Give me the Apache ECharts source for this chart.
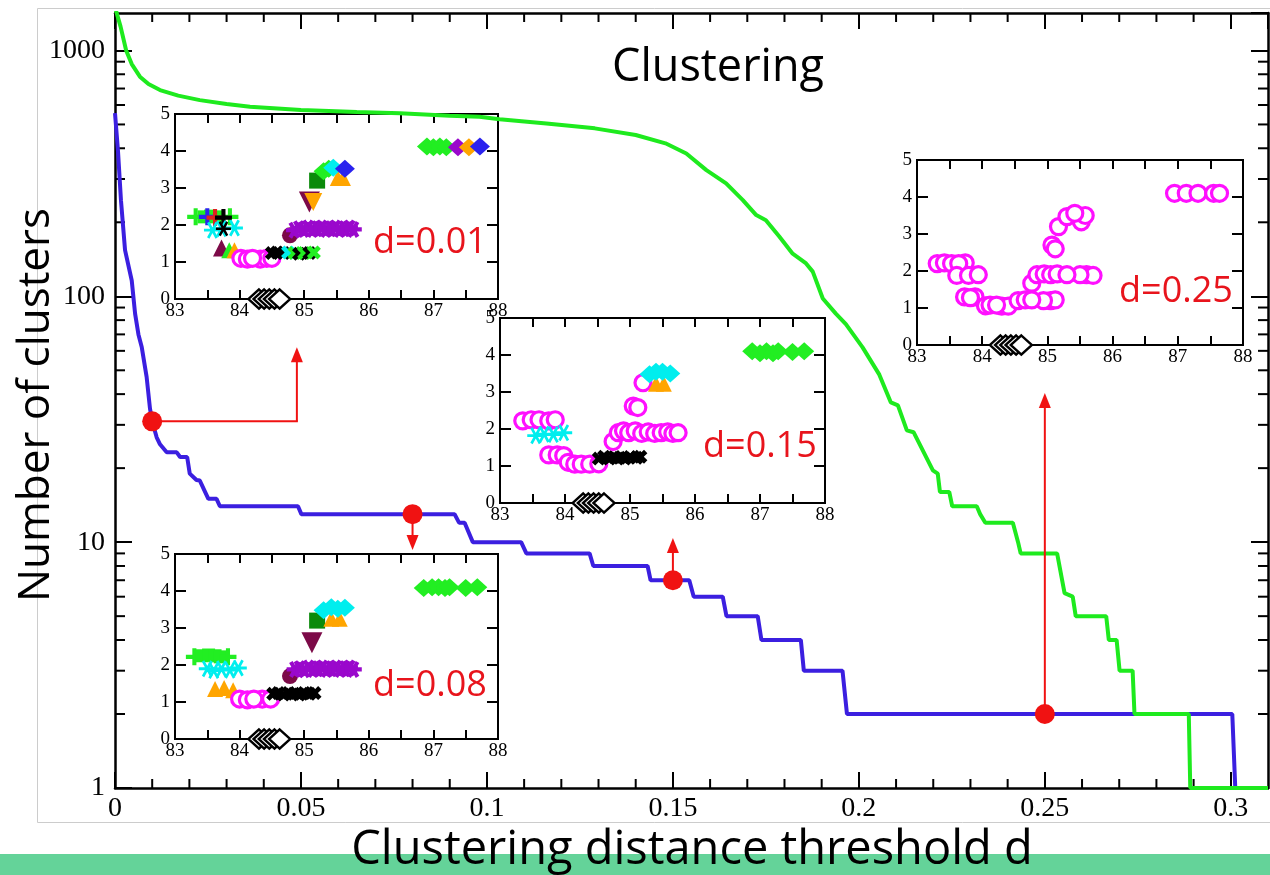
<!DOCTYPE html>
<html>
<head>
<meta charset="utf-8">
<script src="https://cdn.jsdelivr.net/npm/echarts@6/dist/echarts.min.js"></script>
<style>
  html, body { margin: 0; padding: 0; background: #fff; }
  #chart { width: 1270px; height: 875px; }
</style>
</head>
<body>
<div id="chart"></div>
<script>
// Number of clusters as a function of the clustering distance threshold d
// [d, number of clusters]
const blueCurve = [
  [0, 556], [0.0008, 390], [0.0016, 246], [0.0027, 154], [0.0045, 116], [0.0054, 85],
  [0.0063, 70], [0.0072, 62], [0.0085, 47], [0.0094, 35], [0.01, 31], [0.0112, 26.7],
  [0.0121, 25], [0.0139, 23.2], [0.0166, 23.2], [0.0175, 22.2], [0.0194, 22.2],
  [0.0201, 19], [0.0219, 17.9], [0.0228, 17.8], [0.0251, 15], [0.0273, 15], [0.0282, 14],
  [0.0492, 14], [0.0501, 13], [0.0913, 13], [0.0925, 12], [0.094, 12], [0.0962, 10],
  [0.1092, 10], [0.1106, 9], [0.1276, 9], [0.1286, 8], [0.1432, 8], [0.144, 7],
  [0.1544, 7], [0.1556, 6], [0.1634, 6], [0.1644, 5], [0.1728, 5], [0.1738, 4],
  [0.1844, 4], [0.1852, 3], [0.1956, 3], [0.1968, 2], [0.3004, 2], [0.3012, 1], [0.31, 1]
];
const greenCurve = [
  [0, 1500], [0.0015, 1250], [0.003, 1000], [0.0045, 880], [0.0067, 782], [0.009, 730],
  [0.0121, 690], [0.017, 655], [0.0228, 628], [0.03, 606], [0.0363, 590], [0.05, 572],
  [0.065, 562], [0.0766, 555], [0.09, 543], [0.098, 537], [0.1034, 525], [0.116, 505],
  [0.129, 482], [0.14, 453], [0.148, 419], [0.1536, 381], [0.159, 326], [0.1643, 288],
  [0.1688, 246], [0.1724, 214], [0.175, 204], [0.1786, 175], [0.1822, 149], [0.1858, 136],
  [0.1876, 126], [0.1903, 98], [0.1938, 85], [0.1965, 77], [0.201, 62], [0.2055, 48],
  [0.2086, 37], [0.2105, 36], [0.2129, 28.5], [0.2147, 28], [0.2199, 19.6], [0.2212, 19],
  [0.2218, 16], [0.2243, 16], [0.2251, 14], [0.2317, 14], [0.2326, 13], [0.234, 12],
  [0.2414, 12], [0.2428, 10], [0.2435, 9], [0.2533, 9], [0.2553, 6.2], [0.2575, 6],
  [0.2583, 5], [0.2665, 5], [0.2672, 4], [0.2693, 4], [0.2701, 3], [0.2736, 3],
  [0.2741, 2], [0.2887, 2], [0.2891, 1], [0.31, 1]
];

// thresholds shown in the insets and their cluster counts
const sampleD = [0.01, 0.08, 0.15, 0.25];
const sampleN = [31, 13, 7, 2];
const sampleLabels = ['d=0.01', 'd=0.08', 'd=0.15', 'd=0.25'];

// pointer segments from each sampled threshold towards its inset:
// [d start, n start, d end, n end, arrow head (1) or not (0)]
const pointerSegments = [
  [0.01, 31, 0.0489, 31, 0],
  [0.0489, 31, 0.0489, 62, 1],
  [0.08, 13, 0.08, 9.3, 1],
  [0.15, 7, 0.15, 10.4, 1],
  [0.25, 2, 0.25, 40.4, 1]
];

// tick labels / minor tick positions of the main frame
const yMainTicks = [1, 10, 100, 1000];
const yMinorTicks = [2, 3, 4, 5, 6, 7, 8, 9, 20, 30, 40, 50, 60, 70, 80, 90,
                     200, 300, 400, 500, 600, 700, 800, 900];
const xMinorTicks = [0.01, 0.02, 0.03, 0.04, 0.06, 0.07, 0.08, 0.09, 0.11, 0.12, 0.13, 0.14,
                     0.16, 0.17, 0.18, 0.19, 0.21, 0.22, 0.23, 0.24, 0.26, 0.27, 0.28, 0.29];

// inset scatter points: [marker group, x, y]
const pointsD001 = [
  ['greenPlus', 83.32, 2.22], ['greenSquare', 83.45, 2.22], ['greenSquare', 83.55, 2.24],
  ['greenSquare', 83.64, 2.22], ['bluePlus', 83.5, 2.22], ['redPlus', 83.62, 2.2],
  ['greenPlus', 83.85, 2.22], ['blackPlus', 83.75, 2.2],
  ['cyanStar', 83.58, 1.86], ['cyanStar', 83.72, 1.9], ['cyanStar', 83.92, 1.92], ['blackStar', 83.75, 1.9],
  ['maroonTri', 83.72, 1.38], ['greenTri', 83.84, 1.32], ['orangeTri', 83.92, 1.32],
  ['magentaRing', 84.02, 1.1], ['magentaRing', 84.12, 1.08], ['magentaRing', 84.32, 1.08],
  ['magentaRing', 84.42, 1.1], ['magentaRing', 84.5, 1.1], ['magentaRing', 84.2, 1.1],
  ['blackX', 84.5, 1.24], ['blackX', 84.58, 1.26], ['blackX', 84.68, 1.24], ['cyanX', 84.75, 1.26],
  ['greenX', 84.85, 1.24], ['blackX', 84.92, 1.22], ['greenX', 85.0, 1.24], ['blackX', 85.08, 1.24],
  ['greenX', 85.15, 1.26],
  ['maroonDot', 84.78, 1.72],
  ['violetStar', 84.85, 1.86], ['violetStar', 84.92, 1.9], ['violetStar', 84.99, 1.88],
  ['violetStar', 85.06, 1.92], ['violetStar', 85.13, 1.88], ['violetStar', 85.2, 1.9],
  ['violetStar', 85.27, 1.92], ['violetStar', 85.34, 1.88], ['violetStar', 85.41, 1.9],
  ['violetStar', 85.48, 1.92], ['violetStar', 85.55, 1.88], ['violetStar', 85.62, 1.9],
  ['violetStar', 85.7, 1.92], ['violetStar', 85.76, 1.88],
  ['maroonInvTri', 85.08, 2.62], ['orangeInvTri', 85.14, 2.62],
  ['darkGreenSquare', 85.2, 3.2],
  ['orangeTri', 85.52, 3.27], ['orangeTri', 85.6, 3.27],
  ['greenDiamond', 85.3, 3.45], ['greenDiamond', 85.38, 3.52], ['cyanDiamond', 85.45, 3.55],
  ['blueDiamond', 85.63, 3.52],
  ['greenDiamond', 86.9, 4.12], ['greenDiamond', 87.0, 4.1], ['greenDiamond', 87.1, 4.12],
  ['greenDiamond', 87.2, 4.1], ['violetDiamond', 87.38, 4.1], ['orangeDiamond', 87.55, 4.1],
  ['blueDiamond', 87.72, 4.12],
  ['blackRing', 84.3, 0], ['blackRing', 84.38, 0], ['blackRing', 84.46, 0],
  ['blackRing', 84.54, 0], ['blackRing', 84.62, 0]
];
const pointsD008 = [
  ['greenPlus', 83.3, 2.22], ['greenSquare', 83.42, 2.25], ['greenSquare', 83.52, 2.27],
  ['greenSquare', 83.62, 2.25], ['greenSquare', 83.7, 2.22], ['greenPlus', 83.82, 2.22],
  ['cyanStar', 83.5, 1.9], ['cyanStar', 83.6, 1.85], ['cyanStar', 83.72, 1.9],
  ['cyanStar', 83.85, 1.86], ['cyanStar', 83.98, 1.92],
  ['orangeTri', 83.62, 1.35], ['orangeTri', 83.76, 1.38], ['orangeTri', 83.9, 1.32],
  ['magentaRing', 84.0, 1.08], ['magentaRing', 84.12, 1.06], ['magentaRing', 84.35, 1.08],
  ['magentaRing', 84.48, 1.08], ['magentaRing', 84.22, 1.08],
  ['blackX', 84.52, 1.22], ['blackX', 84.6, 1.24], ['blackX', 84.68, 1.2], ['blackX', 84.76, 1.24],
  ['blackX', 84.84, 1.22], ['blackX', 84.92, 1.2], ['blackX', 85.0, 1.24], ['blackX', 85.08, 1.22],
  ['blackX', 85.16, 1.24],
  ['maroonDot', 84.78, 1.7],
  ['violetStar', 84.86, 1.88], ['violetStar', 84.93, 1.9], ['violetStar', 85.0, 1.87],
  ['violetStar', 85.07, 1.92], ['violetStar', 85.14, 1.88], ['violetStar', 85.21, 1.9],
  ['violetStar', 85.28, 1.92], ['violetStar', 85.35, 1.88], ['violetStar', 85.42, 1.9],
  ['violetStar', 85.49, 1.92], ['violetStar', 85.56, 1.88], ['violetStar', 85.63, 1.9],
  ['violetStar', 85.7, 1.92], ['violetStar', 85.76, 1.88],
  ['maroonInvTri', 85.12, 2.6],
  ['darkGreenSquare', 85.2, 3.2],
  ['orangeTri', 85.42, 3.25], ['orangeTri', 85.55, 3.25],
  ['cyanDiamond', 85.3, 3.48], ['cyanDiamond', 85.42, 3.56], ['cyanDiamond', 85.52, 3.52],
  ['cyanDiamond', 85.63, 3.55],
  ['greenDiamond', 86.85, 4.08], ['greenDiamond', 86.98, 4.1], ['greenDiamond', 87.08, 4.1],
  ['greenDiamond', 87.18, 4.08], ['greenDiamond', 87.25, 4.1], ['greenDiamond', 87.5, 4.08],
  ['greenDiamond', 87.68, 4.1],
  ['blackRing', 84.3, 0], ['blackRing', 84.38, 0], ['blackRing', 84.46, 0],
  ['blackRing', 84.54, 0], ['blackRing', 84.62, 0]
];
const pointsD015 = [
  ['magentaRing', 83.35, 2.22], ['magentaRing', 83.48, 2.25], ['magentaRing', 83.6, 2.25],
  ['magentaRing', 83.75, 2.22], ['magentaRing', 83.85, 2.25],
  ['cyanStar', 83.55, 1.82], ['cyanStar', 83.68, 1.86], ['cyanStar', 83.82, 1.85], ['cyanStar', 83.98, 1.9],
  ['magentaRing', 83.75, 1.3], ['magentaRing', 83.88, 1.3], ['magentaRing', 83.98, 1.28],
  ['magentaRing', 84.05, 1.1], ['magentaRing', 84.15, 1.05], ['magentaRing', 84.25, 1.05],
  ['magentaRing', 84.38, 1.05], ['magentaRing', 84.52, 1.06],
  ['blackX', 84.52, 1.2], ['blackX', 84.6, 1.25], ['blackX', 84.68, 1.2], ['blackX', 84.76, 1.24],
  ['blackX', 84.84, 1.22], ['blackX', 84.92, 1.2], ['blackX', 85.0, 1.24], ['blackX', 85.1, 1.22],
  ['blackX', 85.16, 1.25],
  ['magentaRing', 84.74, 1.66],
  ['magentaRing', 84.82, 1.9], ['magentaRing', 84.9, 1.95], ['magentaRing', 84.98, 1.9],
  ['magentaRing', 85.08, 1.95], ['magentaRing', 85.18, 1.88], ['magentaRing', 85.28, 1.92],
  ['magentaRing', 85.38, 1.88], ['magentaRing', 85.48, 1.9], ['magentaRing', 85.58, 1.92],
  ['magentaRing', 85.66, 1.88], ['magentaRing', 85.74, 1.9],
  ['magentaRing', 85.05, 2.62], ['magentaRing', 85.12, 2.58], ['magentaRing', 85.2, 3.25],
  ['orangeTri', 85.4, 3.22], ['orangeTri', 85.52, 3.22],
  ['cyanDiamond', 85.3, 3.48], ['cyanDiamond', 85.4, 3.55], ['cyanDiamond', 85.5, 3.55],
  ['cyanDiamond', 85.62, 3.5],
  ['greenDiamond', 86.88, 4.1], ['greenDiamond', 87.0, 4.05], ['greenDiamond', 87.1, 4.1],
  ['greenDiamond', 87.2, 4.05], ['greenDiamond', 87.28, 4.1], ['greenDiamond', 87.5, 4.08],
  ['greenDiamond', 87.68, 4.1],
  ['blackRing', 84.28, 0], ['blackRing', 84.36, 0], ['blackRing', 84.44, 0],
  ['blackRing', 84.52, 0], ['blackRing', 84.6, 0]
];
const pointsD025 = [
  ['magentaRing', 83.31, 2.2], ['magentaRing', 83.42, 2.22], ['magentaRing', 83.53, 2.2],
  ['magentaRing', 83.74, 2.22], ['magentaRing', 83.64, 2.2],
  ['magentaRing', 83.61, 1.88], ['magentaRing', 83.79, 1.88], ['magentaRing', 83.94, 1.9],
  ['magentaRing', 83.73, 1.3], ['magentaRing', 83.89, 1.3], ['magentaRing', 83.82, 1.28],
  ['magentaRing', 84.05, 1.06], ['magentaRing', 84.12, 1.08], ['magentaRing', 84.3, 1.05],
  ['magentaRing', 84.4, 1.05], ['magentaRing', 84.22, 1.08],
  ['magentaRing', 84.55, 1.2], ['magentaRing', 84.66, 1.22], ['magentaRing', 85.05, 1.2],
  ['magentaRing', 85.12, 1.22], ['magentaRing', 84.94, 1.2], ['magentaRing', 84.76, 1.22],
  ['magentaRing', 84.76, 1.67],
  ['magentaRing', 84.84, 1.9], ['magentaRing', 84.95, 1.92], ['magentaRing', 85.05, 1.9],
  ['magentaRing', 85.15, 1.92], ['magentaRing', 85.6, 1.9], ['magentaRing', 85.7, 1.88],
  ['magentaRing', 85.5, 1.9], ['magentaRing', 85.3, 1.9],
  ['magentaRing', 85.07, 2.7], ['magentaRing', 85.12, 2.6], ['magentaRing', 85.17, 3.2],
  ['magentaRing', 85.3, 3.47], ['magentaRing', 85.52, 3.33], ['magentaRing', 85.58, 3.5],
  ['magentaRing', 85.42, 3.56],
  ['magentaRing', 86.95, 4.1], ['magentaRing', 87.13, 4.1], ['magentaRing', 87.31, 4.1],
  ['magentaRing', 87.55, 4.1], ['magentaRing', 87.64, 4.1],
  ['blackRing', 84.28, 0], ['blackRing', 84.36, 0], ['blackRing', 84.44, 0],
  ['blackRing', 84.52, 0], ['blackRing', 84.6, 0]
];
const insetPoints = [pointsD001, pointsD008, pointsD015, pointsD025];

// ---- drawing ----
const SERIF = 'Liberation Serif';
const SANS = 'Open Sans';
const BLUE = '#3b1fe0';
const GREEN = '#1eea1e';
const RED = '#f01212';

const PLUS = 'path://M3.8,0H6.2V3.8H10V6.2H6.2V10H3.8V6.2H0V3.8H3.8Z';
const XMARK = 'path://M3.4,0H6.6V3.4H10V6.6H6.6V10H3.4V6.6H0V3.4H3.4Z';
const STAR = 'path://M0,4.2H10V5.8H0Z M1.807,1.07L3.193,0.27L8.193,8.93L6.807,9.73Z M8.193,1.07L3.193,9.73L1.807,8.93L6.807,0.27Z';
const STAR_BOLD = 'path://M0,3.8H10V6.2H0Z M1.461,1.27L3.539,0.07L8.539,8.73L6.461,9.93Z M8.539,1.27L3.539,9.93L1.461,8.73L6.461,0.07Z';

const C_GREEN = '#22ee22', C_CYAN = '#00eeee', C_BLUE = '#2a22ee', C_VIOLET = '#9a08cc';
const C_MAROON = '#7c0a48', C_ORANGE = '#ffa500', C_DKGREEN = '#0b8a0b', C_MAGENTA = '#ff10ff';

const markerStyle = {
  greenSquare:     { symbol: 'rect', size: 13, color: C_GREEN },
  greenPlus:       { symbol: PLUS, size: 17, color: C_GREEN },
  bluePlus:        { symbol: PLUS, size: 17, color: C_BLUE },
  redPlus:         { symbol: PLUS, size: 17, color: '#e02020' },
  blackPlus:       { symbol: PLUS, size: 17, color: '#000' },
  cyanStar:        { symbol: STAR, size: 17, color: C_CYAN },
  blackStar:       { symbol: STAR, size: 15, color: '#000' },
  maroonTri:       { symbol: 'triangle', size: 17, color: C_MAROON },
  greenTri:        { symbol: 'triangle', size: 16, color: C_GREEN },
  orangeTri:       { symbol: 'triangle', size: 16, color: C_ORANGE },
  magentaRing:     { symbol: 'circle', size: 16, color: '#fff', border: C_MAGENTA, borderWidth: 3.2 },
  blackX:          { symbol: XMARK, size: 15, color: '#000', rotate: 45 },
  cyanX:           { symbol: XMARK, size: 15, color: C_CYAN, rotate: 45 },
  greenX:          { symbol: XMARK, size: 15, color: C_GREEN, rotate: 45 },
  maroonDot:       { symbol: 'circle', size: 16, color: C_MAROON },
  violetStar:      { symbol: STAR_BOLD, size: 17, color: C_VIOLET },
  maroonInvTri:    { symbol: 'triangle', size: 21, color: C_MAROON, rotate: 180 },
  orangeInvTri:    { symbol: 'triangle', size: 18, color: C_ORANGE, rotate: 180 },
  darkGreenSquare: { symbol: 'rect', size: 16, color: C_DKGREEN },
  greenDiamond:    { symbol: 'diamond', size: [20, 18], color: C_GREEN },
  cyanDiamond:     { symbol: 'diamond', size: [20, 18], color: C_CYAN },
  blueDiamond:     { symbol: 'diamond', size: [20, 18], color: C_BLUE },
  violetDiamond:   { symbol: 'diamond', size: [20, 18], color: C_VIOLET },
  orangeDiamond:   { symbol: 'diamond', size: [20, 18], color: C_ORANGE },
  blackRing:       { symbol: 'diamond', size: [21, 19], color: '#fff', border: '#000', borderWidth: 2.5 }
};

// inset frames, in the same order as sampleLabels
const insetBoxes = [
  { left: 175, top: 114, width: 323, height: 185 },
  { left: 175, top: 554, width: 323, height: 185 },
  { left: 500, top: 318, width: 325, height: 185 },
  { left: 917, top: 160, width: 326, height: 185 }
];
const insetLabelPos = [[430, 243], [430, 686], [760, 447], [1176, 292]];

const grids = [{ left: 115, top: 13, right: 2, bottom: 87, show: false, outerBoundsMode: 'none' }]
  .concat(insetBoxes.map(b => Object.assign({}, b, {
    show: true, backgroundColor: '#fff', borderColor: '#000', borderWidth: 2, outerBoundsMode: 'none'
  })));

function mainX(position, showLabel) {
  return {
    type: 'value', gridIndex: 0, position, min: 0, max: 0.31, interval: 0.05,
    axisLine: { show: true, onZero: false, lineStyle: { color: '#000', width: 2.5 } },
    axisTick: { show: true, inside: true, length: 16, lineStyle: { color: '#000', width: 2 } },
    splitLine: { show: false },
    axisLabel: { show: showLabel, showMaxLabel: false, fontFamily: SERIF, fontSize: 28, color: '#000', margin: 7 }
  };
}
function mainY(position, showLabel) {
  return {
    type: 'log', logBase: 10, gridIndex: 0, position, min: 1, max: 1420,
    axisLine: { show: true, onZero: false, lineStyle: { color: '#000', width: 2.5 } },
    axisTick: { show: true, inside: true, length: 17, lineStyle: { color: '#000', width: 2 } },
    splitLine: { show: false },
    axisLabel: {
      show: showLabel, showMaxLabel: false, fontFamily: SERIF, fontSize: 28, color: '#000', margin: 10,
      formatter: v => {
        const r = Math.round(v);
        return yMainTicks.indexOf(r) >= 0 ? String(r) : '';
      }
    }
  };
}
function insetX(gi, position, showLabel) {
  return {
    type: 'value', gridIndex: gi, position, min: 83, max: 88, interval: 1,
    axisLine: { show: true, onZero: false, lineStyle: { color: '#000', width: 2 } },
    axisTick: { show: true, inside: true, length: 9, lineStyle: { color: '#000', width: 2 } },
    minorTick: { show: true, splitNumber: 2, length: 9, lineStyle: { color: '#000', width: 2 } },
    splitLine: { show: false }, minorSplitLine: { show: false },
    axisLabel: { show: showLabel, fontFamily: SERIF, fontSize: 19, color: '#000', margin: 3 }
  };
}
function insetY(gi, position, showLabel) {
  return {
    type: 'value', gridIndex: gi, position, min: 0, max: 5, interval: 1,
    axisLine: { show: true, onZero: false, lineStyle: { color: '#000', width: 2 } },
    axisTick: { show: true, inside: true, length: 11, lineStyle: { color: '#000', width: 2 } },
    splitLine: { show: false },
    axisLabel: { show: showLabel, fontFamily: SERIF, fontSize: 19, color: '#000', margin: 5 }
  };
}

const xAxes = [mainX('bottom', true), mainX('top', false)];
const yAxes = [mainY('left', true), mainY('right', false)];
insetBoxes.forEach((b, i) => {
  xAxes.push(insetX(i + 1, 'bottom', true), insetX(i + 1, 'top', false));
  yAxes.push(insetY(i + 1, 'left', true), insetY(i + 1, 'right', false));
});

// consecutive rows of one marker group become one scatter series
function insetSeries(rows, insetIndex) {
  const out = [];
  let cur = null;
  rows.forEach(([g, x, y]) => {
    if (!cur || cur.group !== g) { cur = { group: g, data: [] }; out.push(cur); }
    cur.data.push([x, y]);
  });
  const axisIdx = 2 + insetIndex * 2;
  return out.map(run => {
    const st = markerStyle[run.group];
    return {
      type: 'scatter', xAxisIndex: axisIdx, yAxisIndex: axisIdx,
      data: run.data, symbol: st.symbol, symbolSize: st.size, symbolRotate: st.rotate || 0,
      itemStyle: {
        color: st.color, opacity: 1,
        borderColor: st.border || st.color, borderWidth: st.borderWidth || 0
      },
      clip: false, silent: true, animation: false, z: 3
    };
  });
}

const series = [
  {
    type: 'line', xAxisIndex: 0, yAxisIndex: 0, data: blueCurve, showSymbol: false, symbol: 'none',
    lineStyle: { color: BLUE, width: 4 }, z: 2, animation: false, silent: true
  },
  {
    type: 'line', xAxisIndex: 0, yAxisIndex: 0, data: greenCurve, showSymbol: false, symbol: 'none',
    lineStyle: { color: GREEN, width: 4 }, z: 2, animation: false, silent: true
  },
  {
    // minor ticks of the logarithmic axis on the left and right frame edges
    type: 'custom', xAxisIndex: 0, yAxisIndex: 0, silent: true, animation: false, z: 1,
    data: yMinorTicks.map(v => [0, v]),
    renderItem: (params, api) => {
      const cs = params.coordSys;
      const y = api.coord([0, api.value(1)])[1];
      const st = { stroke: '#000', lineWidth: 2 };
      return { type: 'group', children: [
        { type: 'line', shape: { x1: cs.x, y1: y, x2: cs.x + 10, y2: y }, style: st },
        { type: 'line', shape: { x1: cs.x + cs.width - 10, y1: y, x2: cs.x + cs.width, y2: y }, style: st }
      ] };
    }
  },
  {
    // minor ticks of the d axis on the bottom and top frame edges
    type: 'custom', xAxisIndex: 0, yAxisIndex: 0, silent: true, animation: false, z: 1,
    data: xMinorTicks.map(v => [v, 1]),
    renderItem: (params, api) => {
      const cs = params.coordSys;
      const x = api.coord([api.value(0), 1])[0];
      const st = { stroke: '#000', lineWidth: 2 };
      return { type: 'group', children: [
        { type: 'line', shape: { x1: x, y1: cs.y + cs.height, x2: x, y2: cs.y + cs.height - 9 }, style: st },
        { type: 'line', shape: { x1: x, y1: cs.y, x2: x, y2: cs.y + 9 }, style: st }
      ] };
    }
  },
  {
    // red pointers with solid arrow heads
    type: 'custom', xAxisIndex: 0, yAxisIndex: 0, silent: true, animation: false, z: 4,
    data: pointerSegments,
    renderItem: (params, api) => {
      const p1 = api.coord([api.value(0), api.value(1)]);
      const p2 = api.coord([api.value(2), api.value(3)]);
      const head = api.value(4);
      const dx = p2[0] - p1[0], dy = p2[1] - p1[1];
      const len = Math.sqrt(dx * dx + dy * dy) || 1;
      const ux = dx / len, uy = dy / len;
      const hl = 15, hw = 6;
      const bx = p2[0] - ux * hl, by = p2[1] - uy * hl;
      const children = [{
        type: 'line',
        shape: { x1: p1[0], y1: p1[1], x2: head ? bx + ux : p2[0] + ux, y2: head ? by + uy : p2[1] + uy },
        style: { stroke: RED, lineWidth: 2 }
      }];
      if (head) {
        children.push({
          type: 'polygon',
          shape: { points: [[p2[0], p2[1]], [bx - uy * hw, by + ux * hw], [bx + uy * hw, by - ux * hw]] },
          style: { fill: RED }
        });
      }
      return { type: 'group', children };
    }
  },
  {
    type: 'scatter', xAxisIndex: 0, yAxisIndex: 0, silent: true, animation: false, z: 5,
    data: sampleD.map((d, i) => [d, sampleN[i]]), symbol: 'circle', symbolSize: 20,
    itemStyle: { color: RED, opacity: 1 }
  }
];
insetPoints.forEach((rows, i) => { series.push(...insetSeries(rows, i)); });

const textStyle = (size, color) => ({
  fontFamily: SANS, fontSize: size, fill: color, align: 'center', verticalAlign: 'middle',
  textAlign: 'center', textVerticalAlign: 'middle'
});

const graphic = [
  { type: 'rect', silent: true, z: -10, shape: { x: 0, y: 854, width: 1270, height: 21 }, style: { fill: '#64d399' } },
  { type: 'rect', silent: true, z: -10, shape: { x: 37.5, y: 8.5, width: 1240, height: 814 },
    style: { fill: 'none', stroke: '#cccccc', lineWidth: 1 } },
  { type: 'text', silent: true, x: 718, y: 68, style: Object.assign({ text: 'Clustering' }, textStyle(45, '#000')) },
  { type: 'text', silent: true, x: 692, y: 851,
    style: Object.assign({ text: 'Clustering distance threshold d' }, textStyle(47, '#000')) },
  { type: 'text', silent: true, x: 36, y: 405, rotation: Math.PI / 2,
    style: Object.assign({ text: 'Number of clusters' }, textStyle(44, '#000')) }
].concat(sampleLabels.map((t, i) => {
  const p = insetLabelPos[i];
  return { type: 'text', silent: true, x: p[0], y: p[1], z: 100,
           style: Object.assign({ text: t }, textStyle(36, '#e8141c')) };
}));

const chart = echarts.init(document.getElementById('chart'), null, { renderer: 'canvas' });
chart.setOption({
  animation: false,
  backgroundColor: '#fff',
  grid: grids,
  xAxis: xAxes,
  yAxis: yAxes,
  series,
  graphic
});
</script>
</body>
</html>
